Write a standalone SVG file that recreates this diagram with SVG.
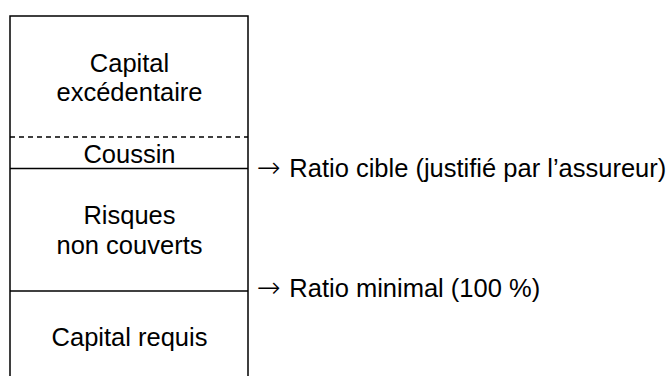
<svg xmlns="http://www.w3.org/2000/svg" width="668" height="376" viewBox="0 0 668 376">
<style>
text{font-family:"Liberation Sans",Arial,sans-serif;font-size:25.5px;fill:#000}
.c{text-anchor:middle}
.ar{font-family:"DejaVu Sans",sans-serif;font-size:28.5px;font-weight:200}
.ln{stroke:#000;stroke-width:1.5;fill:none}
.d{stroke-dasharray:5,4}
</style>
<rect width="668" height="376" fill="#fff"/>
<g id="box">
<path class="ln" d="M10,377 V16 H248 V377"/>
</g>
<g id="connectors">
<line class="ln d" x1="10" y1="137" x2="248" y2="137"/>
<line class="ln" x1="10" y1="168.5" x2="248" y2="168.5"/>
<line class="ln" x1="10" y1="291" x2="248" y2="291"/>
</g>
<g id="capital-excedentaire">
<text class="c" x="129.5" y="72">Capital</text>
<text class="c" x="129.5" y="101">excédentaire</text>
</g>
<g id="coussin"><text class="c" x="129.5" y="162.5">Coussin</text></g>
<g id="risques">
<text class="c" x="129.5" y="224">Risques</text>
<text class="c" x="129.5" y="254">non couverts</text>
</g>
<g id="capital-requis"><text class="c" x="129.5" y="346">Capital requis</text></g>
<g id="ratio-cible"><text x="256.5" y="176.5"><tspan class="ar">→</tspan><tspan x="289.3">Ratio cible (justifié par l’assureur)</tspan></text></g>
<g id="ratio-minimal"><text x="256.5" y="297"><tspan class="ar">→</tspan><tspan x="289.3">Ratio minimal (100 %)</tspan></text></g>
</svg>
